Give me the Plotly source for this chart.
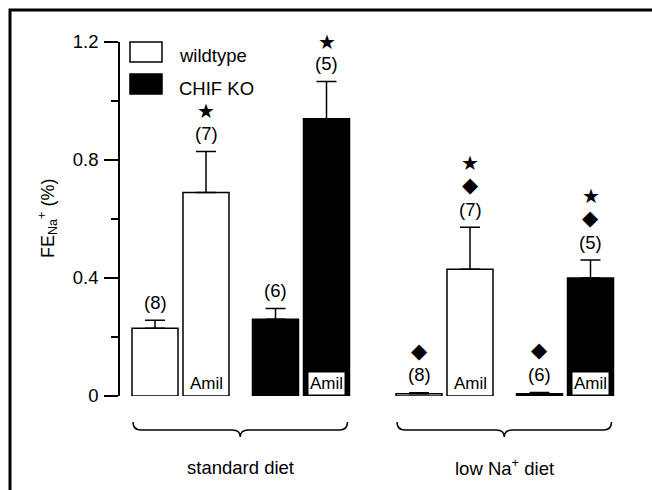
import plotly.graph_objects as go

# ---------------- data ----------------
groups = ["standard diet", "low Na<sup>+</sup> diet"]
genotypes = ["wildtype", "CHIF KO"]
treatments = ["control", "Amil"]

# order: [standard/control, standard/Amil, lowNa/control, lowNa/Amil]
wt_mean = [0.23, 0.69, 0.008, 0.43]
wt_sem = [0.027, 0.139, 0.003, 0.142]
wt_n = [8, 7, 8, 7]
wt_star = [False, True, False, True]
wt_diamond = [False, False, True, True]

ko_mean = [0.26, 0.94, 0.008, 0.40]
ko_sem = [0.037, 0.126, 0.004, 0.061]
ko_n = [6, 5, 6, 5]
ko_star = [False, True, False, True]
ko_diamond = [False, False, True, True]

y_ticks = [0, 0.4, 0.8, 1.2]
y_tick_labels = ["0", "0.4", "0.8", "1.2"]
y_minor_ticks = [0.2, 0.6, 1.0]
y_title = "FE<sub>Na</sub><sup>+</sup> (%)"

# ---------------- layout constants ----------------
W, H = 652, 490
ML, MR, MT, MB = 120, 12, 42, 94
PW, PH = W - ML - MR, H - MT - MB
X_RANGE = [0, PW]
X0, STEP_T, STEP_K, STEP_G = 35, 51, 120.5, 264
BAR_W = 46
FONT = "Liberation Sans, Arial, sans-serif"
SYM_FONT = "DejaVu Sans"


def px_x(px):  # page pixel -> paper x
    return (px - ML) / PW


def px_y(py):  # page pixel -> paper y
    return (H - MB - py) / PH


def pos(g, k, t):
    return X0 + g * STEP_G + k * STEP_K + t * STEP_T


fig = go.Figure()
annotations = []
shapes = []

series = [
    (genotypes[0], wt_mean, wt_sem, wt_n, wt_star, wt_diamond, "white"),
    (genotypes[1], ko_mean, ko_sem, ko_n, ko_star, ko_diamond, "black"),
]

for k, (name, mean, sem, n, star, diamond, fill) in enumerate(series):
    xs = [pos(g, k, t) for g in range(2) for t in range(2)]
    fig.add_trace(go.Bar(
        x=xs, y=mean, width=BAR_W, name=name,
        marker=dict(color=fill, line=dict(color="black", width=1.5)),
        error_y=dict(type="data", array=sem, arrayminus=[0] * len(sem),
                     symmetric=False, color="black", thickness=1.5, width=10),
        showlegend=False, hoverinfo="skip",
    ))
    for i, x in enumerate(xs):
        top = mean[i] + sem[i]
        shift = 18
        annotations.append(dict(x=x, y=top, xref="x", yref="y", text=f"({n[i]})",
                                showarrow=False, yanchor="middle", yshift=shift,
                                font=dict(size=18.5, color="black", family=FONT)))
        if diamond[i]:
            shift += 24
            annotations.append(dict(x=x, y=top, xref="x", yref="y", text="◆",
                                    showarrow=False, yanchor="middle", yshift=shift,
                                    font=dict(size=21, color="black", family=SYM_FONT)))
        if star[i]:
            shift += 22
            annotations.append(dict(x=x, y=top, xref="x", yref="y", text="★",
                                    showarrow=False, yanchor="middle", yshift=shift,
                                    font=dict(size=20, color="black", family=SYM_FONT)))
        t = i % 2
        if treatments[t] == "Amil":
            annotations.append(dict(x=x, y=0, xref="x", yref="y", text="Amil",
                                    showarrow=False, yanchor="middle", yshift=13,
                                    bgcolor="white" if fill == "black" else "rgba(0,0,0,0)",
                                    borderpad=1,
                                    font=dict(size=17, color="black", family=FONT)))

# braces and group labels
for g, gname in enumerate(groups):
    xa = pos(g, 0, 0) - BAR_W / 2 + 1
    xb = pos(g, 1, 1) + BAR_W / 2 - 2
    xc = (xa + xb) / 2
    ye, yl, yt = px_y(422), px_y(430), px_y(437)
    r = 8
    path = (f"M {xa},{ye} Q {xa},{yl} {xa + r},{yl} L {xc - r},{yl} "
            f"Q {xc},{yl} {xc},{yt} Q {xc},{yl} {xc + r},{yl} "
            f"L {xb - r},{yl} Q {xb},{yl} {xb},{ye}")
    shapes.append(dict(type="path", path=path, xref="x", yref="paper",
                       line=dict(color="black", width=1.5)))
    annotations.append(dict(x=xc, y=px_y(467), xref="x", yref="paper", text=gname,
                            showarrow=False, yanchor="middle",
                            font=dict(size=18.5, color="black", family=FONT)))

# legend (drawn)
legend_rows = [(genotypes[0], "white", 42, 56), (genotypes[1], "black", 74, 88)]
for name, fill, ytop, ytxt in legend_rows:
    shapes.append(dict(type="rect", xref="paper", yref="paper",
                       x0=px_x(130), x1=px_x(162), y0=px_y(ytop), y1=px_y(ytop + 20),
                       fillcolor=fill, line=dict(color="black", width=1.5)))
    annotations.append(dict(x=px_x(177), y=px_y(ytxt), xref="paper", yref="paper",
                            text=name, showarrow=False, xanchor="left", yanchor="middle",
                            font=dict(size=18.5, color="black", family=FONT)))

# y title
annotations.append(dict(x=px_x(47), y=px_y(219), xref="paper", yref="paper",
                        text=y_title, showarrow=False, textangle=-90,
                        xanchor="center", yanchor="middle",
                        font=dict(size=18, color="black", family=FONT)))

# outer frame (top & left edges visible)
shapes.append(dict(type="rect", xref="paper", yref="paper",
                   x0=px_x(10), x1=px_x(700), y0=px_y(560), y1=px_y(10),
                   line=dict(color="black", width=3), fillcolor="rgba(0,0,0,0)"))

fig.update_layout(
    width=W, height=H,
    margin=dict(l=ML, r=MR, t=MT, b=MB, pad=0),
    paper_bgcolor="white", plot_bgcolor="white",
    barmode="overlay",
    xaxis=dict(range=X_RANGE, visible=False, fixedrange=True),
    yaxis=dict(range=[0, 1.2], tickvals=y_ticks, ticktext=y_tick_labels,
               ticks="outside", ticklen=14, tickwidth=1.5, tickcolor="black",
               showline=True, linecolor="black", linewidth=1.5,
               showgrid=False, zeroline=False,
               tickfont=dict(size=18.5, color="black", family=FONT),
               ticklabelstandoff=2,
               minor=dict(tickvals=y_minor_ticks, ticks="outside", ticklen=7,
                          tickwidth=1.5, tickcolor="black", showgrid=False)),
    annotations=annotations,
    shapes=shapes,
    font=dict(family=FONT, color="black"),
)

fig.write_html("out.html")
